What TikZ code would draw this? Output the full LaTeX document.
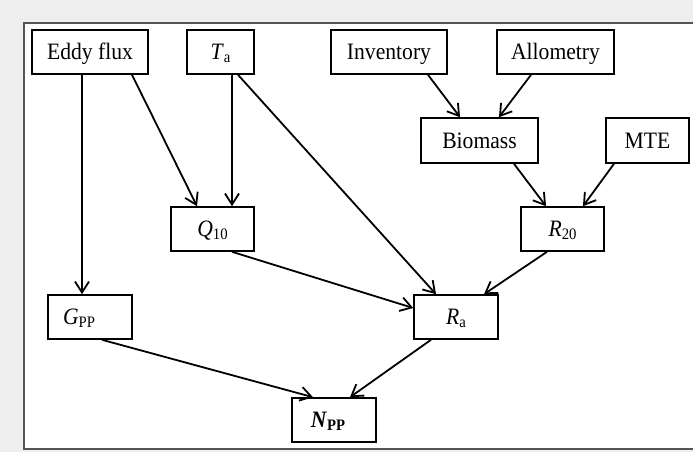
\documentclass[tikz,border=0pt]{standalone}
\usepackage{fontspec}
\setmainfont[FakeStretch=0.92]{Liberation Serif}
\usetikzlibrary{arrows.meta}
\definecolor{bggray}{HTML}{EEEEEE}
\definecolor{framegray}{HTML}{555555}
\newcommand{\lowsub}[1]{\raisebox{-0.3ex}{\fontsize{16pt}{16pt}\selectfont #1}}
\begin{document}
\begin{tikzpicture}[x=1pt,y=-1pt,
  box/.style={draw, line width=1.6pt, minimum height=44pt, inner sep=0pt,
    text height=15.5pt, text depth=0pt,
    font=\fontsize{23.5pt}{25pt}\selectfont},
  conn/.style={line width=1.8pt, -{Straight Barb[length=11pt,width=14pt,line width=1.8pt]}}]
\fill[bggray] (0,0) rectangle (693,452);
\useasboundingbox (0,0) rectangle (693,452);
\fill[white] (24,23) rectangle (693,449);
\draw[framegray, line width=1.5pt] (693,23) -- (24,23) -- (24,449) -- (693,449);

\node[box, minimum width=116pt] (eddy) at (90,52) {Eddy flux};
\node[box, minimum width=67pt] (ta) at (220.5,52) {\textit{T}\lowsub{a}};
\node[box, minimum width=116pt] (inv) at (389,52) {Inventory};
\node[box, minimum width=117pt] (allo) at (555.5,52) {Allometry};
\node[box, minimum width=117pt, minimum height=45pt] (bio) at (479.5,140.5) {Biomass};
\node[box, minimum width=83pt, minimum height=45pt] (mte) at (647.5,140.5) {MTE};
\node[box, minimum width=83pt] (q10) at (212.5,229) {\textit{Q}\lowsub{10}};
\node[box, minimum width=83pt] (r20) at (562.5,229) {\textit{R}\lowsub{20}};
\node[box, minimum width=84pt] (gpp) at (90,317) {\hspace*{-22pt}\textit{G}\lowsub{PP}};
\node[box, minimum width=84pt] (ra) at (456,317) {\textit{R}\lowsub{a}};
\node[box, minimum width=84pt] (npp) at (334,420) {\hspace*{-12pt}\textbf{\textit{N}\lowsub{\bfseries PP}}};

\draw[conn] ([xshift=-8pt]eddy.south) -- ([xshift=-8pt]gpp.north);
\draw[conn] ([xshift=42pt]eddy.south) -- ([xshift=-15.5pt]q10.north);
\draw[conn] ([xshift=11.5pt]ta.south) -- ([xshift=19.5pt]q10.north);
\draw[conn] ([xshift=17.5pt]ta.south) -- ([xshift=-20pt]ra.north);
\draw[conn] ([xshift=39pt]inv.south) -- ([xshift=-19.5pt]bio.north);
\draw[conn] ([xshift=-24.5pt]allo.south) -- ([xshift=19.5pt]bio.north);
\draw[conn] ([xshift=34.5pt]bio.south) -- ([xshift=-16.5pt]r20.north);
\draw[conn] ([xshift=-33.5pt]mte.south) -- ([xshift=20.5pt]r20.north);
\draw[conn] ([xshift=19.5pt]q10.south) -- ([yshift=9pt]ra.west);
\draw[conn] ([xshift=-15.5pt]r20.south) -- ([xshift=28pt]ra.north);
\draw[conn] ([xshift=12pt]gpp.south) -- ([xshift=-21pt]npp.north);
\draw[conn] ([xshift=-25pt]ra.south) -- ([xshift=16pt]npp.north);
\end{tikzpicture}
\end{document}
